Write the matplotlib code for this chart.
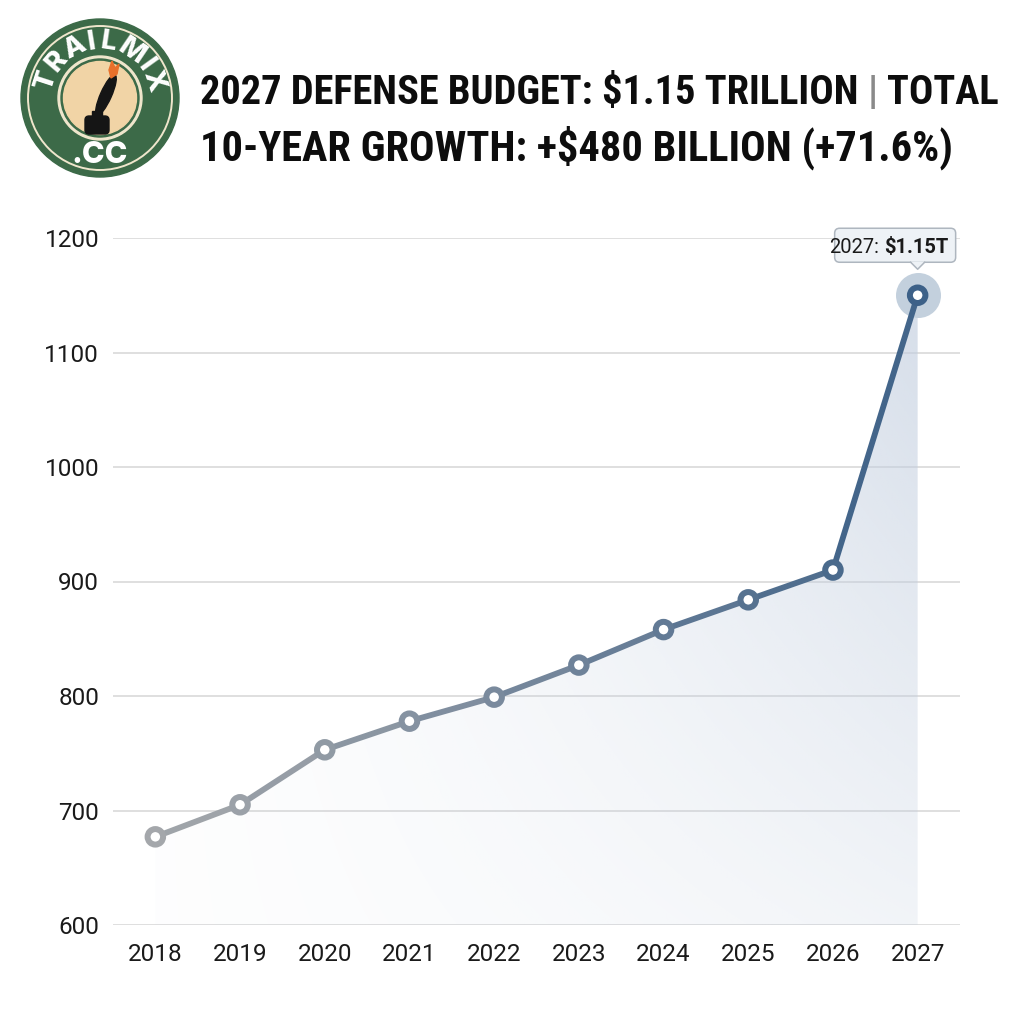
import numpy as np
import matplotlib
matplotlib.use("Agg")
import matplotlib.pyplot as plt
from matplotlib import font_manager
from matplotlib.collections import LineCollection
from matplotlib.patches import Circle, Ellipse, FancyBboxPatch, Polygon, Rectangle

# data (billions USD)
years = ["2018", "2019", "2020", "2021", "2022", "2023", "2024", "2025", "2026", "2027"]
budget = [677, 705, 753, 778, 799, 827, 858, 884, 910, 1150]
y_ticks = [600, 700, 800, 900, 1000, 1100, 1200]
title_1a = "2027 DEFENSE BUDGET: $1.15 TRILLION"
title_sep = "|"
title_1b = "TOTAL"
title_2 = "10-YEAR GROWTH: +$480 BILLION (+71.6%)"
callout_year = "2027:"
callout_val = "$1.15T"
logo_top = "TRAILMIX"
logo_bottom = ".CC"

installed = {f.name for f in font_manager.fontManager.ttflist}
cond = next((n for n in ("Roboto Condensed", "Liberation Sans Narrow", "Roboto")
             if n in installed), "DejaVu Sans")
body = "Roboto" if "Roboto" in installed else "DejaVu Sans"
plt.rcParams["font.family"] = [body, "DejaVu Sans"]

C_START = np.array([0xa4, 0xa7, 0xab]) / 255
C_END = np.array([0x3d, 0x61, 0x88]) / 255

fig = plt.figure(figsize=(10.24, 10.24), dpi=100)
W = H = 1024.0

# main axes, placed in pixel terms
ax = fig.add_axes([113 / W, (H - 925) / H, (960 - 113) / W, (925 - 238) / H])
x = np.arange(len(years))
y = np.array(budget, dtype=float)
ax.set_xlim(-0.5, len(years) - 0.5)
ax.set_ylim(y_ticks[0], y_ticks[-1])
ax.set_yticks(y_ticks)
ax.set_xticks(x, years)
for s in ax.spines.values():
    s.set_visible(False)
ax.tick_params(length=0, labelsize=17.5, colors="#1a1a1a")
ax.tick_params(axis="y", pad=10)
ax.tick_params(axis="x", pad=13)
ax.grid(axis="y", color="#d6d6d6", lw=1.1, zorder=0)
ax.set_axisbelow(True)

# gradient area under the line
poly = Polygon(np.column_stack([np.r_[x, x[-1], x[0]], np.r_[y, y_ticks[0], y_ticks[0]]]),
               closed=True, facecolor="none", edgecolor="none")
ax.add_patch(poly)
gx, gy = np.meshgrid(np.linspace(0, 1, 300), np.linspace(0, 1, 300))
img = np.zeros((300, 300, 4))
img[..., :3] = np.array([0xc2, 0xce, 0xdf]) / 255
img[..., 3] = 0.03 + 0.64 * gx ** 1.4 * (0.3 + 0.7 * gy)
im = ax.imshow(img, extent=[x[0], x[-1], y_ticks[0], y.max()], origin="lower",
               aspect="auto", zorder=1, interpolation="bilinear")
im.set_clip_path(poly)

# colour-graded line and markers
t = x / x[-1]
cols = C_START + (C_END - C_START) * t[:, None] ** 1.1
segs = np.stack([np.column_stack([x[:-1], y[:-1]]), np.column_stack([x[1:], y[1:]])], axis=1)
seg_cols = (cols[:-1] + cols[1:]) / 2
ax.add_collection(LineCollection(segs, colors=seg_cols, linewidths=4.2,
                                 capstyle="round", zorder=3))
ax.scatter(x[-1], y[-1], s=1050, color="#c3d0dd", zorder=2.5, linewidths=0)
ax.scatter(x, y, s=125, facecolor="white", edgecolors=cols, linewidths=4.3, zorder=4)

# callout box over the last point
fig.canvas.draw()
px, py = ax.transData.transform((x[-1], y[-1]))
bx0, bx1 = px - 83, px + 38
by0, by1 = py + 33, py + 67
box = FancyBboxPatch((bx0, by0), bx1 - bx0, by1 - by0, boxstyle="round,pad=0,rounding_size=5",
                     transform=None, facecolor="#eef2f6", edgecolor="#aeb6bf", lw=1.1, zorder=5)
fig.patches.append(box)
tri = Polygon([[px - 7, by0 + 0.8], [px + 7, by0 + 0.8], [px, by0 - 7]], closed=True,
              transform=None, facecolor="#eef2f6", edgecolor="none", zorder=6)
fig.patches.append(tri)
fig.lines.append(plt.Line2D([px - 7, px, px + 7], [by0, by0 - 7, by0], transform=None,
                            color="#aeb6bf", lw=1.1, zorder=7))
ty = (by0 + by1) / 2
fig.text((px - 39) / W, ty / H, callout_year, ha="right", va="center_baseline",
         fontsize=14.5, color="#1a1a1a", zorder=8)
fig.text((px - 34) / W, ty / H, callout_val, ha="left", va="center_baseline",
         fontsize=14.5, fontweight="bold", color="#1a1a1a", zorder=8)

# title: each line sized to its width in the reference
TKW = dict(fontweight="bold", family=[cond, "DejaVu Sans"], va="baseline")


def title_line1(size, gap):
    parts = [(title_1a, "#0d0d0d"), (title_sep, "#8a8a8a"), (title_1b, "#0d0d0d")]
    xpos, arts = 200.0, []
    for txt, col in parts:
        a = fig.text(xpos / W, (H - 104) / H, txt, color=col, fontsize=size, **TKW)
        fig.canvas.draw()
        xpos = a.get_window_extent().x1 + gap
        arts.append(a)
    return arts, xpos - gap


arts, right = title_line1(32, 9)
size1 = 32 * (1000 - 200 - 18) / (right - 200 - 18)
for a in arts:
    a.remove()
title_line1(size1, 9)
t2 = fig.text(200 / W, (H - 161) / H, title_2, color="#0d0d0d", fontsize=32, **TKW)
fig.canvas.draw()
size2 = min(32 * (968 - 200) / (t2.get_window_extent().x1 - 200), size1 * 1.05)
t2.set_fontsize(size2)

# logo
lg = fig.add_axes([10 / W, (H - 188) / H, 180 / W, 180 / H])
lg.set_xlim(-90, 90)
lg.set_ylim(-90, 90)
lg.set_aspect("equal")
lg.axis("off")
lg.add_patch(Circle((0, 0), 79, color="#3c6a48"))
lg.add_patch(Circle((0, 0), 72, fill=False, ec="#efe6cc", lw=1.4))
lg.add_patch(Circle((0, 0), 42, color="#efe6cc"))
lg.add_patch(Circle((0, 0), 39, color="#3c6a48"))
lg.add_patch(Circle((0, 0), 36.5, color="#f1d4a6"))
# letters along the arc, spaced by their rough widths
widths = np.array([{"I": 0.42, "M": 0.95, "T": 0.72, "X": 0.78}.get(c, 0.78) for c in logo_top])
cum = np.cumsum(widths) - widths / 2
angs = 162 - (cum - cum[0]) / (cum[-1] - cum[0]) * (162 - 18)
for ch, a_deg in zip(logo_top, angs):
    ang = np.deg2rad(a_deg)
    lg.text(56 * np.cos(ang), 56 * np.sin(ang), ch, rotation=a_deg - 90,
            ha="center", va="center", fontsize=20, fontweight="heavy", color="white",
            family=["Inter", "DejaVu Sans"])
lg.text(0, -57, logo_bottom, ha="center", va="center", fontsize=22, fontweight="heavy",
        color="white", family=["Inter", "DejaVu Sans"])
# ink bottle + quill
lg.add_patch(FancyBboxPatch((-15, -36), 24, 18, boxstyle="round,pad=0,rounding_size=4",
                            color="#151515"))
lg.add_patch(Rectangle((-8, -19), 10, 6, color="#151515"))
lg.add_patch(Ellipse((6, 3), 44, 11, angle=66, color="#151515"))
lg.add_patch(Polygon([[11, 20], [17, 24], [19, 34], [15, 30], [12, 37], [9, 28]],
                     closed=True, color="#e8702a"))

fig.savefig("out.png", dpi=100, facecolor="white")
